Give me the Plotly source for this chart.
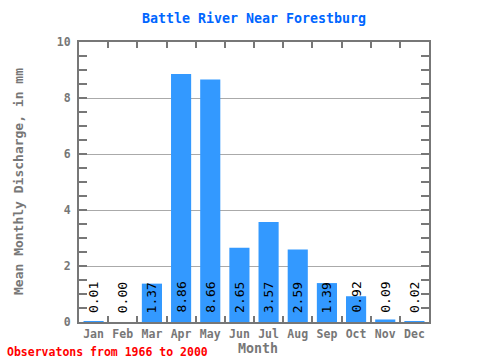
import plotly.graph_objects as go

months = ["Jan", "Feb", "Mar", "Apr", "May", "Jun", "Jul", "Aug", "Sep", "Oct", "Nov", "Dec"]
values = [0.01, 0.00, 1.37, 8.86, 8.66, 2.65, 3.57, 2.59, 1.39, 0.92, 0.09, 0.02]
labels = ["0.01", "0.00", "1.37", "8.86", "8.66", "2.65", "3.57", "2.59", "1.39", "0.92", "0.09", "0.02"]

xpos = list(range(1, len(months) + 1))
FONT = "DejaVu Sans Mono"
GRAY = "#777777"
L, R, T, B = 79, 429, 42, 322
PW, PH = R - L, B - T

fig = go.Figure()
fig.add_trace(go.Bar(x=xpos, y=values, width=0.69, marker=dict(color="#3399ff", line=dict(width=0)),
                     hoverinfo="skip"))
fig.add_trace(go.Scatter(x=[0.5, 12.5], y=[0, 0], xaxis="x2", mode="markers",
                         marker=dict(opacity=0), hoverinfo="skip", showlegend=False))

for x, lab in zip(xpos, labels):
    fig.add_annotation(x=x, y=0.25, text=lab, textangle=-90, showarrow=False,
                       xanchor="center", yanchor="bottom",
                       font=dict(family=FONT, size=13, color="black"))

fig.update_layout(
    width=480, height=360,
    margin=dict(l=L, r=480 - R, t=T, b=360 - B, autoexpand=False),
    plot_bgcolor="white", paper_bgcolor="white",
    showlegend=False,
    title=dict(text="<b>Battle River Near Forestburg</b>", x=0.5, xref="paper", xanchor="center",
               y=1 - 18 / 360, yanchor="middle",
               font=dict(family=FONT, size=13.3, color="#0066ff")),
    xaxis=dict(range=[0.5, 12.5], tickvals=xpos, ticktext=[f"<b>{m}</b>" for m in months],
               ticks="", showgrid=False, zeroline=False, showline=True, linecolor=GRAY, linewidth=2,
               mirror=True, automargin=False, tickfont=dict(family=FONT, size=11.5, color=GRAY)),
    xaxis2=dict(range=[0.5, 12.5], overlaying="x", side="bottom", tickvals=[i + 0.5 for i in range(12)],
                ticks="inside", ticklen=6, tickwidth=2, tickcolor=GRAY, showticklabels=False,
                showgrid=False, zeroline=False, mirror="allticks", showline=False, automargin=False),
    yaxis=dict(range=[0, 10], tickvals=[0, 2, 4, 6, 8, 10], ticktext=["<b>0</b>", "<b>2</b>", "<b>4</b>", "<b>6</b>", "<b>8</b>", "<b>10</b>"],
               ticks="inside", ticklen=8, tickwidth=2, tickcolor=GRAY,
               minor=dict(dtick=0.5, ticks="inside", ticklen=4, tickwidth=2, tickcolor=GRAY, showgrid=False),
               showgrid=True, gridcolor="#aaaaaa", gridwidth=1, zeroline=False,
               showline=True, linecolor=GRAY, linewidth=2, mirror="allticks", automargin=False,
               ticklabelstandoff=4,
               tickfont=dict(family=FONT, size=11.5, color=GRAY)),
)

fig.add_annotation(text="<b>Mean Monthly Discharge, in mm</b>", xref="paper", yref="paper",
                   x=(18 - L) / PW, y=(B - 182) / PH, textangle=-90, showarrow=False,
                   xanchor="center", yanchor="middle",
                   font=dict(family=FONT, size=13, color=GRAY))
fig.add_annotation(text="<b>Month</b>", xref="paper", yref="paper",
                   x=(258 - L) / PW, y=-(348 - B) / PH, showarrow=False,
                   xanchor="center", yanchor="middle",
                   font=dict(family=FONT, size=13.3, color=GRAY))
fig.add_annotation(text="<b>Observatons from 1966 to 2000</b>", xref="paper", yref="paper",
                   x=(5 - L) / PW, y=-(352 - B) / PH, xanchor="left", yanchor="middle", showarrow=False,
                   font=dict(family=FONT, size=11.5, color="red"))

fig.write_html("out.html", config={"displayModeBar": False},
               post_script="document.body.style.margin='0';document.body.style.overflow='hidden';")
